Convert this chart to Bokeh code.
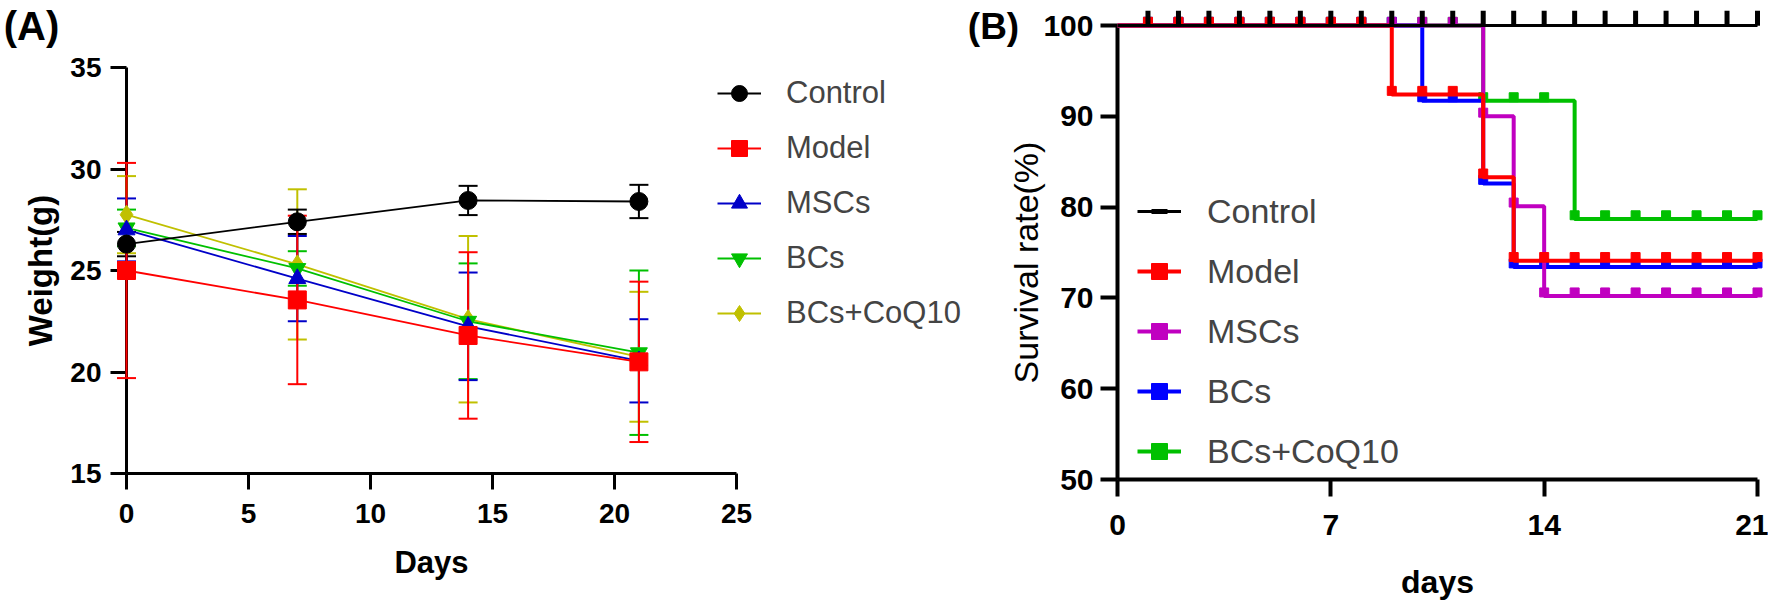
from math import pi
from bokeh.plotting import figure
from bokeh.layouts import row
from bokeh.models import Legend, LegendItem, FixedTicker
from bokeh.core.properties import value
from bokeh.embed import file_html
from bokeh.resources import INLINE

FONT = "Liberation Sans"

# ---------------- Panel A data: body weight ----------------
days_a = [0, 7, 14, 21]
groups = ["Control", "Model", "MSCs", "BCs", "BCs+CoQ10"]
ctrl_w = [26.3, 27.4, 28.45, 28.4]
ctrl_sd = [0.6, 0.6, 0.72, 0.82]
model_w = [25.0, 23.55, 21.8, 20.5]
model_sd = [5.3, 4.15, 4.1, 3.95]
mscs_w = [27.0, 24.6, 22.25, 20.55]
mscs_sd = [1.55, 2.1, 2.65, 2.05]
bcs_w = [27.1, 25.1, 22.5, 20.95]
bcs_sd = [0.9, 0.85, 2.85, 4.05]
coq_w = [27.75, 25.3, 22.6, 20.75]
coq_sd = [1.9, 3.7, 4.1, 3.2]
x_ticks_a = [0, 5, 10, 15, 20, 25]
y_ticks_a = [15, 20, 25, 30, 35]

# ---------------- Panel B data: survival ----------------
ctrl_t = [0, 21]
ctrl_s = [100, 100]
model_t = [0, 9, 12, 13, 21]
model_s = [100, 92.4, 83.3, 74.1, 74.1]
mscs_t = [0, 12, 13, 14, 21]
mscs_s = [100, 90.0, 80.1, 70.2, 70.2]
bcs_t = [0, 10, 12, 13, 21]
bcs_s = [100, 91.7, 82.6, 73.4, 73.4]
coq_t = [0, 12, 15, 21]
coq_s = [100, 91.7, 78.7, 78.7]
censor_days = [1, 2, 3, 4, 5, 6, 7, 8, 9, 10, 11, 12, 13, 14, 15, 16, 17, 18, 19, 20, 21]
x_ticks_b = [0, 7, 14, 21]
y_ticks_b = [50, 60, 70, 80, 90, 100]

# ---------------- layout (page pixels) ----------------
H = 600
SPLIT = 965                      # where panel A's canvas ends and B's begins
WA = SPLIT
WB = 1768 - SPLIT
A_LEFT, A_AXIS_RIGHT, A_FRAME_RIGHT = 126, 736, SPLIT
A_TOP, A_BOTTOM = 67, 473
B_LEFT, B_RIGHT = 1117, 1757
B_TOP, B_BOTTOM = 25, 479

a_ppx = (A_AXIS_RIGHT - A_LEFT) / (x_ticks_a[-1] - x_ticks_a[0])
a_ppy = (A_BOTTOM - A_TOP) / (y_ticks_a[-1] - y_ticks_a[0])
a_xhi = x_ticks_a[-1] + (A_FRAME_RIGHT - A_AXIS_RIGHT) / a_ppx
b_ppx = (B_RIGHT - B_LEFT) / (x_ticks_b[-1] - x_ticks_b[0])
b_ppy = (B_BOTTOM - B_TOP) / (y_ticks_b[-1] - y_ticks_b[0])


def a_dx(px):
    return x_ticks_a[0] + (px - A_LEFT) / a_ppx


def a_dy(py):
    return y_ticks_a[0] + (A_BOTTOM - py) / a_ppy


def b_dx(px):
    return x_ticks_b[0] + (px - B_LEFT) / b_ppx


def b_dy(py):
    return y_ticks_b[0] + (B_BOTTOM - py) / b_ppy


def style_axes(p, fs_tick, lw, tick_out):
    for ax in (p.xaxis[0], p.yaxis[0]):
        ax.axis_line_width = lw
        ax.axis_line_color = "black"
        ax.major_tick_line_width = lw
        ax.major_tick_out = tick_out
        ax.major_tick_in = 0
        ax.minor_tick_out = 0
        ax.minor_tick_in = 0
        ax.major_label_text_font = FONT
        ax.major_label_text_font_style = "bold"
        ax.major_label_text_font_size = fs_tick
        ax.major_label_text_color = "black"
        ax.axis_label_text_font = FONT
        ax.axis_label_text_color = "black"
    p.grid.visible = False
    p.outline_line_color = None


def add_text(p, x, y, txt, size, style, angle=0.0):
    p.text(x=[x], y=[y], text=[txt], angle=angle, level="overlay",
           text_font=value(FONT), text_font_style=value(style), text_font_size=value(size),
           text_align=value("center"), text_baseline=value("middle"), text_color="black")


# =============== Panel A ===============
pA = figure(width=WA, height=H, x_range=(x_ticks_a[0], a_xhi),
            y_range=(y_ticks_a[0], y_ticks_a[-1]),
            output_backend="svg", toolbar_location=None, frame_align=False,
            min_border_left=A_LEFT, min_border_right=WA - A_FRAME_RIGHT,
            min_border_top=A_TOP, min_border_bottom=H - A_BOTTOM)
style_axes(pA, "28px", 3, 16)
pA.xaxis.ticker = FixedTicker(ticks=x_ticks_a)
pA.yaxis.ticker = FixedTicker(ticks=y_ticks_a)
pA.xaxis.bounds = (x_ticks_a[0], x_ticks_a[-1])
pA.yaxis.axis_label = "Weight(g)"
pA.yaxis.axis_label_text_font_style = "bold"
pA.yaxis.axis_label_text_font_size = "33px"
pA.xaxis.major_label_standoff = 14
pA.yaxis.major_label_standoff = 9
pA.yaxis.axis_label_standoff = 8

series_a = {
    "Control": (ctrl_w, ctrl_sd, "#000000", "circle", 18),
    "Model": (model_w, model_sd, "#FF0000", "square", 18),
    "MSCs": (mscs_w, mscs_sd, "#0000C8", "triangle", 17),
    "BCs": (bcs_w, bcs_sd, "#00C000", "inverted_triangle", 17),
    "BCs+CoQ10": (coq_w, coq_sd, "#C0C000", "diamond", 19),
}
draw_order_a = ["BCs+CoQ10", "BCs", "MSCs", "Control", "Model"]
items_a = {}
for name in draw_order_a:
    w, sd, col, mk, sz = series_a[name]
    lo = [m - s for m, s in zip(w, sd)]
    hi = [m + s for m, s in zip(w, sd)]
    pA.segment(x0=days_a, y0=lo, x1=days_a, y1=hi, line_color=col, line_width=2, level="overlay")
    pA.scatter(x=days_a + days_a, y=lo + hi, marker="dash", size=19, line_color=col,
               line_width=2, level="overlay")
for name in draw_order_a:
    w, sd, col, mk, sz = series_a[name]
    lr = pA.line(x=days_a, y=w, line_color=col, line_width=1.8, level="overlay")
    sr = pA.scatter(x=days_a, y=w, marker=mk, size=sz, fill_color=col, line_color=col,
                    level="overlay")
    items_a[name] = LegendItem(label=name, renderers=[lr, sr])

legA = Legend(items=[items_a[g] for g in groups], location=(591, 140),
              orientation="vertical", glyph_width=44, glyph_height=40,
              label_height=40, spacing=15, padding=0, margin=0, label_standoff=25,
              border_line_alpha=0, background_fill_alpha=0,
              label_text_font=FONT, label_text_font_size="31px")
pA.add_layout(legA)
add_text(pA, a_dx(31), a_dy(25), "(A)", "40px", "bold")
add_text(pA, (x_ticks_a[0] + x_ticks_a[-1]) / 2, a_dy(562), "Days", "31px", "bold")

# =============== Panel B ===============
pB = figure(width=WB, height=H, x_range=(x_ticks_b[0], x_ticks_b[-1]),
            y_range=(y_ticks_b[0], y_ticks_b[-1]),
            output_backend="svg", toolbar_location=None, frame_align=False,
            min_border_left=B_LEFT - SPLIT, min_border_right=SPLIT + WB - B_RIGHT,
            min_border_top=B_TOP, min_border_bottom=H - B_BOTTOM)
style_axes(pB, "30px", 4, 17)
pB.xaxis.ticker = FixedTicker(ticks=x_ticks_b)
pB.yaxis.ticker = FixedTicker(ticks=y_ticks_b)
pB.xaxis.major_label_standoff = 18
pB.yaxis.major_label_standoff = 7


def at_days(t, s, ds):
    out = []
    for d in ds:
        v = s[0]
        for ti, si in zip(t, s):
            if ti <= d:
                v = si
        out.append(v)
    return out


series_b = {
    "Control": (ctrl_t, ctrl_s, "#000000"),
    "Model": (model_t, model_s, "#FF0000"),
    "MSCs": (mscs_t, mscs_s, "#C000C0"),
    "BCs": (bcs_t, bcs_s, "#0000FF"),
    "BCs+CoQ10": (coq_t, coq_s, "#00C000"),
}
draw_order_b = ["BCs+CoQ10", "BCs", "MSCs", "Model", "Control"]
items_b = {}
for name in draw_order_b:
    t, s, col = series_b[name]
    lw = 3 if name == "Control" else 4
    st = pB.step(x=t, y=s, mode="after", line_color=col, line_width=lw, level="overlay")
    mv = at_days(t, s, censor_days)
    if name == "Control":
        mr = pB.scatter(x=censor_days, y=[v + 0.8 for v in mv], marker="dash", angle=pi / 2,
                        size=15, line_color=col, line_width=5, level="overlay")
    else:
        mr = pB.scatter(x=censor_days, y=[v + 0.4 for v in mv], marker="square", size=9,
                        fill_color=col, line_color=col, level="overlay")
    items_b[name] = LegendItem(label=name, renderers=[st, mr])

legB = Legend(items=[items_b[g] for g in groups], location=(20, 8),
              orientation="vertical", glyph_width=44, glyph_height=40,
              label_height=40, spacing=20, padding=0, margin=0, label_standoff=26,
              border_line_alpha=0, background_fill_alpha=0,
              label_text_font=FONT, label_text_font_size="34px")
pB.add_layout(legB)
add_text(pB, b_dx(993), b_dy(26), "(B)", "37px", "bold")
add_text(pB, (x_ticks_b[0] + x_ticks_b[-1]) / 2, b_dy(581), "days", "32px", "bold")
add_text(pB, b_dx(1025), b_dy(262), "Survival rate(%)", "34px", "normal", angle=pi / 2)

layout = row(pA, pB, spacing=0)
open("out.html", "w").write(file_html(layout, INLINE))
